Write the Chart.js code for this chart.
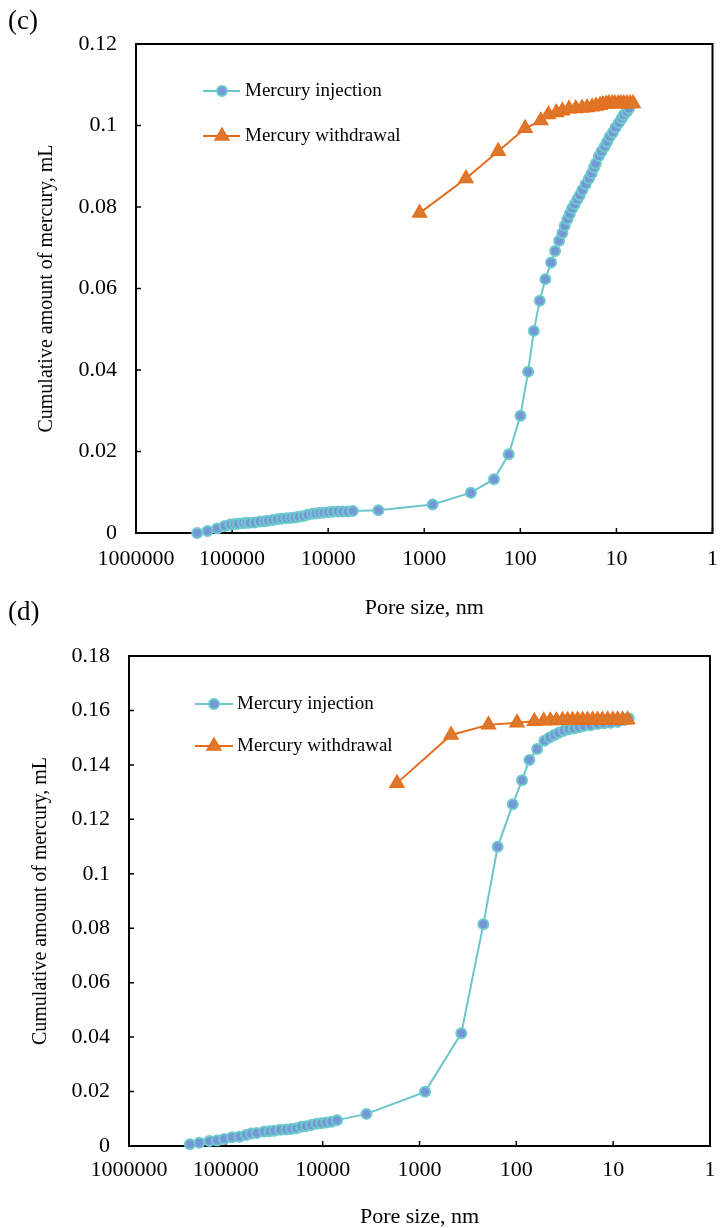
<!DOCTYPE html>
<html><head><meta charset="utf-8">
<script src="https://cdn.jsdelivr.net/npm/chart.js@4.4.1/dist/chart.umd.min.js"></script>
<style>
html,body{margin:0;padding:0;background:#fff;width:722px;height:1228px;overflow:hidden;}
canvas{position:absolute;left:0;}
#c1{top:0;}
#c2{top:600px;}
.lbl{position:absolute;font-family:"Liberation Serif","Times New Roman",serif;font-size:27px;color:#000;line-height:1;}
</style></head><body>
<canvas id="c1" width="722" height="625"></canvas>
<canvas id="c2" width="722" height="628"></canvas>
<div class="lbl" style="left:8px;top:7px">(c)</div>
<div class="lbl" style="left:8px;top:598px">(d)</div>
<script>
// ---------- data ----------
const xTickValues = [1, 10, 100, 1000, 10000, 100000, 1000000];
const cYTicks = [0, 0.02, 0.04, 0.06, 0.08, 0.1, 0.12];
const dYTicks = [0, 0.02, 0.04, 0.06, 0.08, 0.1, 0.12, 0.14, 0.16, 0.18];

const cInjSize = [230900,180100,143200,119100,103900,93800,86600,76900,70400,65500,58100,51600,45750,42290,37800,34100,30470,27240,24570,22330,20290,18010,16370,14630,13510,12290,11160,10070,9000,7930,7090,6245,5540,
  3000,818,327,188,132,99.7,83,72.4,62.8,54.9,47.9,43.5,39.5,36.5,34.5,32.4,30.6,28.8,27.2,25.5,24.1,22.6,20.9,19.3,18.1,17.1,16.4,15.2,14.3,13.3,12.5,11.7,10.9,10.2,9.4,8.8,8.4,7.8,7.4];
const cInjVol = [0,0.0005,0.0011,0.0017,0.0021,0.0022,0.0023,0.0024,0.0025,0.0025,0.0026,0.0028,0.0029,0.003,0.0032,0.0034,0.0035,0.0036,0.0037,0.0038,0.004,0.0042,0.0045,0.0047,0.0048,0.0049,0.005,0.0051,0.0052,0.0053,0.0053,0.0053,0.0054,
  0.0056,0.0070,0.0099,0.0132,0.0193,0.0288,0.0396,0.0496,0.0570,0.0623,0.0664,0.0692,0.0717,0.0736,0.0754,0.0770,0.0783,0.0797,0.0807,0.0819,0.0829,0.0842,0.0856,0.0870,0.0883,0.0897,0.0907,0.0925,0.0936,0.0948,0.0960,0.0973,0.0983,0.0995,0.1007,0.1018,0.1026,0.1034,0.1042];
const cWitSize = [1117,368,170,89,61.2,51.0,42.2,36.5,31.1,26.5,22.8,20.2,17.9,16.3,14.8,13.8,12.8,12.0,11.1,10.4,9.6,9.0,8.4,7.8,7.2,6.7];
const cWitVol = [0.0785,0.0870,0.0937,0.0993,0.1012,0.1027,0.1032,0.1036,0.1041,0.1042,0.1043,0.1044,0.1046,0.1048,0.1050,0.1052,0.1053,0.1054,0.1054,0.1054,0.1054,0.1054,0.1054,0.1054,0.1054,0.1054];

const dInjSize = [235000,188000,148000,123000,104000,86300,72500,61800,54800,48000,39900,35400,31400,27400,23800,21100,18700,16600,14800,13100,11600,10300,9150,8130,7110,
  3530,877,370,219,156,109,87.4,73.3,61.0,51.3,45.5,40.4,36.5,32.4,28.7,25.5,22.6,20.1,17.1,14.6,12.4,10.6,9.0,7.7,6.9];
const dInjVol = [0.0006,0.0012,0.0018,0.0020,0.0026,0.0032,0.0034,0.0040,0.0046,0.0048,0.0053,0.0054,0.0056,0.0060,0.0061,0.0062,0.0065,0.0071,0.0073,0.0077,0.0082,0.0084,0.0086,0.0089,0.0095,
  0.0118,0.0199,0.0414,0.0815,0.1099,0.1255,0.1344,0.1418,0.1458,0.1489,0.1501,0.1510,0.1518,0.1525,0.1531,0.1534,0.1538,0.1543,0.1546,0.1550,0.1553,0.1555,0.1558,0.1565,0.1571];
const dWitSize = [1710,472,194,98.4,65.1,52.1,44.5,38.5,33.3,29.6,26.3,23.3,20.7,18.4,16.3,14.5,12.9,11.4,10.1,9.0,8.0,7.1];
const dWitVol = [0.1333,0.1510,0.1547,0.1555,0.1560,0.1562,0.1563,0.1563,0.1564,0.1564,0.1564,0.1565,0.1565,0.1565,0.1565,0.1565,0.1565,0.1566,0.1566,0.1566,0.1566,0.1566];

const seriesNames = ['Mercury injection', 'Mercury withdrawal'];
const xTitle = 'Pore size, nm';
const yTitle = 'Cumulative amount of mercury, mL';

// ---------- styles ----------
const FONT = '"Liberation Serif","Times New Roman",serif';
const INJ_LINE = '#6CC6C9', INJ_FILL = '#7697D6', INJ_RING = '#6DCBCD';
const WIT_LINE = '#E46C1C', WIT_FILL = '#D97A30', WIT_RING = '#E86F1C';
const DOT_R = 5, TRI_R = 8;

function zip(xs, ys){ return xs.map((x,i)=>({x:x, y:ys[i]})); }

const framePlugin = {
  id:'frame',
  beforeDatasetsDraw(chart){
    const {ctx, chartArea:a, scales:{x, y}} = chart;
    ctx.save();
    ctx.strokeStyle = '#000';
    ctx.lineWidth = 1.5;
    ctx.beginPath();
    x.ticks.forEach(t=>{ const px = x.getPixelForValue(t.value); ctx.moveTo(px, a.bottom); ctx.lineTo(px, a.bottom-5); });
    y.ticks.forEach(t=>{ const py = y.getPixelForValue(t.value); ctx.moveTo(a.left, py); ctx.lineTo(a.left+5, py); });
    ctx.stroke();
    ctx.lineWidth = 2;
    ctx.strokeRect(a.left, a.top, a.right-a.left, a.bottom-a.top);
    ctx.restore();
  }
};

function legendPlugin(L){
  return {
    id:'customLegend',
    afterDraw(chart){
      const ctx = chart.ctx;
      ctx.save();
      ctx.strokeStyle = INJ_LINE; ctx.lineWidth = 2;
      ctx.beginPath(); ctx.moveTo(L.x1, L.y1); ctx.lineTo(L.x2, L.y1); ctx.stroke();
      ctx.beginPath(); ctx.arc(L.mx, L.y1, DOT_R, 0, Math.PI*2);
      ctx.fillStyle = INJ_FILL; ctx.fill(); ctx.strokeStyle = INJ_RING; ctx.stroke();
      ctx.strokeStyle = WIT_LINE; ctx.lineWidth = 2;
      ctx.beginPath(); ctx.moveTo(L.x1, L.y2); ctx.lineTo(L.x2, L.y2); ctx.stroke();
      ctx.beginPath();
      for (let k=0;k<3;k++){ const ang = k*2*Math.PI/3; const px = L.mx + Math.sin(ang)*TRI_R, py = L.y2 - Math.cos(ang)*TRI_R; if(k===0) ctx.moveTo(px,py); else ctx.lineTo(px,py); }
      ctx.closePath();
      ctx.fillStyle = WIT_FILL; ctx.fill(); ctx.strokeStyle = WIT_RING; ctx.lineWidth = 1.5; ctx.stroke();
      ctx.fillStyle = '#000';
      ctx.font = '19px ' + FONT;
      ctx.textBaseline = 'middle'; ctx.textAlign = 'left';
      ctx.fillText(seriesNames[0], L.tx, L.y1);
      ctx.fillText(seriesNames[1], L.tx, L.y2);
      ctx.restore();
    }
  };
}

function makeChart(id, c){
  return new Chart(document.getElementById(id), {
    type:'line',
    data:{ datasets:[
      { label: seriesNames[1], data: zip(c.witX, c.witY), order:0, clip:false,
        borderColor: WIT_LINE, borderWidth:2, pointStyle:'triangle', pointRadius:TRI_R,
        pointBackgroundColor: WIT_FILL, pointBorderColor: WIT_RING, pointBorderWidth:1.5, tension:0 },
      { label: seriesNames[0], data: zip(c.injX, c.injY), order:1, clip:false,
        borderColor: INJ_LINE, borderWidth:2, pointStyle:'circle', pointRadius:DOT_R,
        pointBackgroundColor: INJ_FILL, pointBorderColor: INJ_RING, pointBorderWidth:2, tension:0 }
    ]},
    options:{
      responsive:false, animation:false, devicePixelRatio:1,
      layout:{ padding:{ top:c.top, right:c.right, left:0, bottom:0 } },
      plugins:{ legend:{display:false}, tooltip:{enabled:false} },
      elements:{ point:{ hoverRadius:0 } },
      scales:{
        x:{ type:'logarithmic', reverse:true, min:1, max:1000000, position:'bottom',
          afterBuildTicks: s => { s.ticks = xTickValues.map(v=>({value:v})); },
          afterFit: s => { s.height = c.xH; },
          grid:{ display:false, drawTicks:false }, border:{ display:false },
          ticks:{ autoSkip:false, maxRotation:0, minRotation:0, padding:c.xPad, color:'#000',
            font:{ family:FONT, size:22, lineHeight:1.2 }, callback: v => String(v) },
          title:{ display:true, text:xTitle, color:'#000', font:{ family:FONT, size:22, lineHeight:1 },
            padding:{ top:0, bottom:c.xTitlePad } }
        },
        y:{ type:'linear', min:0, max:c.yTicks[c.yTicks.length-1],
          afterBuildTicks: s => { s.ticks = c.yTicks.map(v=>({value:v})); },
          afterFit: s => { s.width = c.yW; },
          grid:{ display:false, drawTicks:false }, border:{ display:false },
          ticks:{ padding:c.yPad, color:'#000', font:{ family:FONT, size:22 },
            callback: v => String(+Number(v).toFixed(2)) },
          title:{ display:true, text:yTitle, color:'#000', font:{ family:FONT, size:20, lineHeight:1.2 },
            padding:{ top:c.yTitlePad, bottom:0 } }
        }
      }
    },
    plugins:[framePlugin, legendPlugin(c.legend)]
  });
}

makeChart('c1', { injX:cInjSize, injY:cInjVol, witX:cWitSize, witY:cWitVol, yTicks:cYTicks,
  top:44, right:8, xH:92, yW:136, xPad:13, xTitlePad:6, yPad:19, yTitlePad:35,
  legend:{ x1:203, x2:240, mx:222, y1:91, y2:136, tx:245 } });

makeChart('c2', { injX:dInjSize, injY:dInjVol, witX:dWitSize, witY:dWitVol, yTicks:dYTicks,
  top:56, right:12, xH:82, yW:129, xPad:11, xTitlePad:0, yPad:19, yTitlePad:29,
  legend:{ x1:195, x2:233, mx:214, y1:104, y2:146, tx:237 } });
</script>
</body></html>
